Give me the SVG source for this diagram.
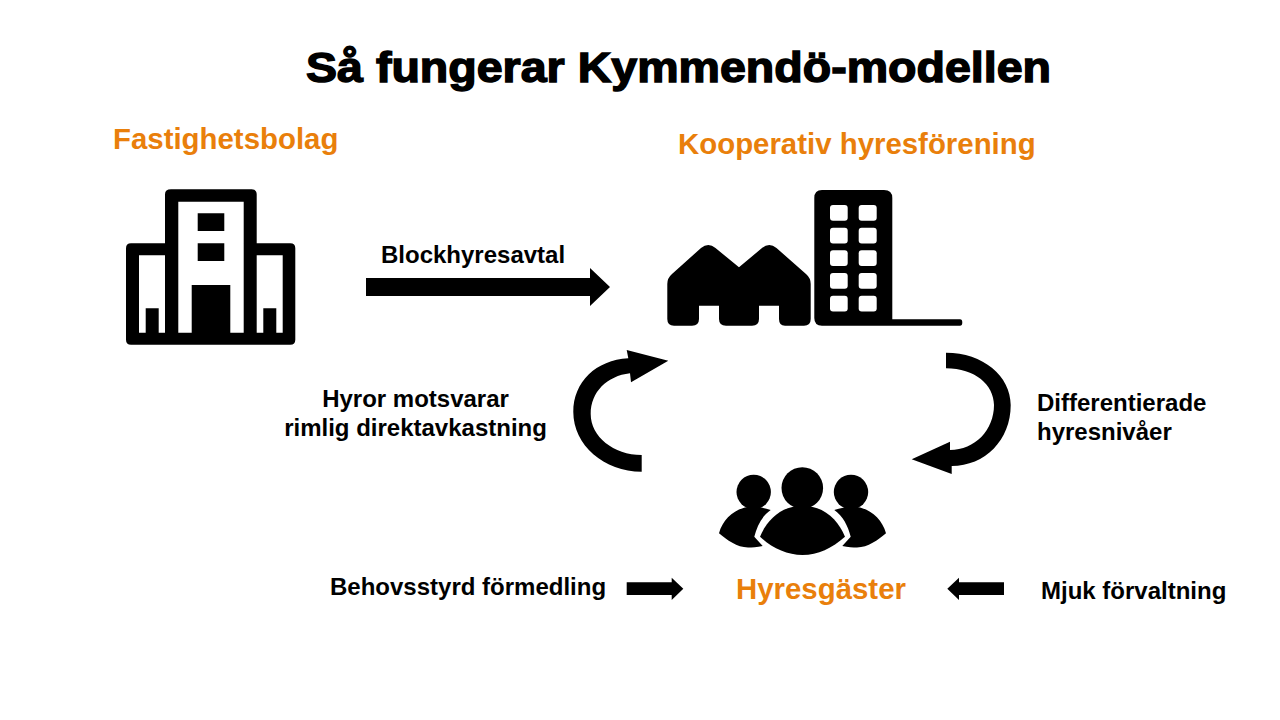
<svg xmlns="http://www.w3.org/2000/svg" width="1280" height="720" viewBox="0 0 1280 720">
<style>
text{font-family:"Liberation Sans",Arial,sans-serif;font-weight:700;fill:#000}
.t{font-size:42px;stroke:#000;stroke-width:1.400px}
.o{fill:#e97f0b;font-size:29.400px}
.l{font-size:24px}
.w{fill:#fff}
.k{fill:#000}
</style>
<rect width="1280" height="720" fill="#fff"/>
<text class="t" x="306" y="82" textLength="745" lengthAdjust="spacingAndGlyphs">Så fungerar Kymmendö-modellen</text>
<g id="fastighetsbolag">
<text class="o" x="113" y="149">Fastighetsbolag</text>
<path class="k" d="M171 189.300H251.700Q256.700 189.300 256.700 194.300V243.300H290.300Q295.300 243.300 295.300 248.300V339.700Q295.300 344.700 290.300 344.700H131Q126 344.700 126 339.700V248.300Q126 243.300 131 243.300H165V194.300Q165 189.300 171 189.300Z"/>
<path class="w" d="M178.300 201.700H243.700V332.700H230.300V285H191.700V332.700H178.300ZM197.700 213.300V231H224.300V213.300ZM197.700 243.300V261H224.300V243.300Z" fill-rule="evenodd"/>
<path class="w" d="M139 255.300H165V332.700H158.700V308.300H145.700V332.700H139Z"/>
<path class="w" d="M256.700 255.300H282.700V332.700H276.300V308.300H263.300V332.700H256.700Z"/>
</g>
<g id="kooperativ">
<text class="o" x="678" y="154">Kooperativ hyresförening</text>
<path class="k" d="M667.300 284Q667.300 278 672 274L701 248Q708.300 242 715.500 248L739 267.300L762 248Q769.300 242 776.500 248L806 274Q810.700 278 810.700 284V319Q810.700 325.700 804 325.700H785Q779 325.700 779 319V305.700H759V319Q759 325.700 752 325.700H726Q719 325.700 719 319V305.700H699V319Q699 325.700 692 325.700H674Q667.300 325.700 667.300 319Z"/>
<path class="k" d="M822 190H884Q892.300 190 892.300 198V319.300H960Q962.300 319.300 962.300 322.500T960 325.700H822Q814.300 325.700 814.300 318V198Q814.300 190 822 190Z"/>
<g class="w">
<rect x="830" y="205" width="17.700" height="15.700" rx="3"/><rect x="858.700" y="205" width="18" height="15.700" rx="3"/>
<rect x="830" y="227.700" width="17.700" height="15.700" rx="3"/><rect x="858.700" y="227.700" width="18" height="15.700" rx="3"/>
<rect x="830" y="250.300" width="17.700" height="15.700" rx="3"/><rect x="858.700" y="250.300" width="18" height="15.700" rx="3"/>
<rect x="830" y="273" width="17.700" height="15.700" rx="3"/><rect x="858.700" y="273" width="18" height="15.700" rx="3"/>
<rect x="830" y="295.700" width="17.700" height="15.700" rx="3"/><rect x="858.700" y="295.700" width="18" height="15.700" rx="3"/>
</g>
</g>
<g id="hyresgaster">
<circle class="k" cx="802.300" cy="488" r="20.800"/>
<circle class="k" cx="753.700" cy="492" r="17.200"/>
<circle class="k" cx="851" cy="492" r="17.200"/>
<path class="k" d="M802.500 505.700C824 505.700 838 520 845 536.700C832 548 818 555 802.500 555C787 555 772 548 760 536.700C767 520 781 505.700 802.500 505.700Z"/>
<path class="k" d="M719 533.300C723 518 737 506.700 752 506.700C759 506.700 765 508 770.700 510C762 516 757 526 754.300 536.700L762.700 546C757 547 752 547.500 748 547.500C737 547.500 727 540 719 533.300Z"/>
<path class="k" d="M886 533.300C882 518 868 506.700 853 506.700C846 506.700 840 508 834.300 510C843 516 848 526 850.700 536.700L842.300 546C848 547 853 547.500 857 547.500C868 547.500 878 540 886 533.300Z"/>
<text class="o" x="736" y="599">Hyresgäster</text>
</g>
<g id="connectors">
<path class="k" d="M366 278H590V268L610 287L590 306V296H366Z"/>
<path class="k" d="M641.700 471.700C604 471.700 573.300 445 573.300 412C573.300 382 596 360 628.300 358.300L626.700 350L668.300 360.700L631 382.300L630 373.300C607 376 590.700 392 590.700 414C590.700 436.600 613.500 455 641.700 455Z"/>
<path class="k" d="M946 352.700C983 352.700 1010.700 376 1010.700 405C1010.700 440 985 466 951.700 466L951.700 474L911.700 459.300L950 441.700L950 450C975 450 994 430 994 405C994 385 975 368.300 946 368.300Z"/>
<path class="k" d="M626.700 582.300H671.700V577.700L683.300 588.700L671.700 600V595H626.700Z"/>
<path class="k" d="M1004 582.300H959V577.700L947.300 588.700L959 600V595H1004Z"/>
</g>
<g id="labels">
<text class="l" x="381" y="263">Blockhyresavtal</text>
<text class="l" x="415.500" y="407" text-anchor="middle">Hyror motsvarar</text>
<text class="l" x="415.500" y="436" text-anchor="middle">rimlig direktavkastning</text>
<text class="l" x="1037" y="411">Differentierade</text>
<text class="l" x="1037" y="440">hyresnivåer</text>
<text class="l" x="330" y="595">Behovsstyrd förmedling</text>
<text class="l" x="1041" y="599">Mjuk förvaltning</text>
</g>
</svg>
